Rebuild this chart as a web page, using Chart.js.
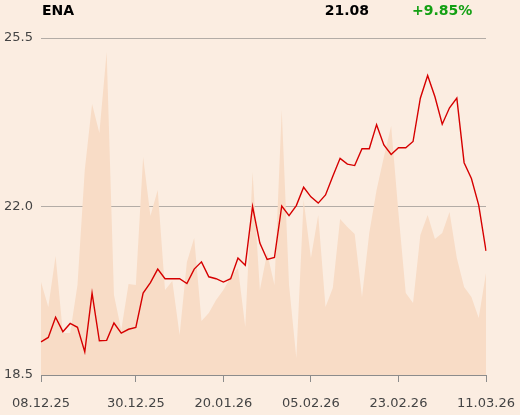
<!DOCTYPE html>
<html>
<head>
<meta charset="utf-8">
<script src="https://cdn.jsdelivr.net/npm/chart.js@4"></script>
<style>
  body { margin: 0; background: #fbede1; }
  #wrap { position: relative; width: 520px; height: 415px; }
  #chart { display: block; }
  .hdr { position: absolute; top: 2px; font: bold 14px "DejaVu Sans", sans-serif; color: #000; }
</style>
</head>
<body>
<div id="wrap">
  <div class="hdr" style="left:42px">ENA</div>
  <div class="hdr" style="right:151px">21.08</div>
  <div class="hdr" style="left:412px; color:#13a013">+9.85%</div>
  <canvas id="chart" width="520" height="415"></canvas>
</div>
<script>
const dates = [
  "08.12.25", "09.12.25", "10.12.25", "11.12.25", "12.12.25",
  "15.12.25", "16.12.25", "17.12.25", "18.12.25", "19.12.25",
  "22.12.25", "23.12.25", "29.12.25", "30.12.25",
  "02.01.26", "05.01.26", "07.01.26", "08.01.26", "09.01.26",
  "12.01.26", "13.01.26", "14.01.26", "15.01.26", "16.01.26",
  "19.01.26", "20.01.26", "21.01.26", "22.01.26", "23.01.26",
  "26.01.26", "27.01.26", "28.01.26", "29.01.26", "30.01.26",
  "02.02.26", "03.02.26", "04.02.26", "05.02.26", "06.02.26",
  "09.02.26", "10.02.26", "11.02.26", "12.02.26", "13.02.26",
  "16.02.26", "17.02.26", "18.02.26", "19.02.26", "20.02.26",
  "23.02.26", "24.02.26", "25.02.26", "26.02.26", "27.02.26",
  "02.03.26", "03.03.26", "04.03.26", "05.03.26", "06.03.26",
  "09.03.26", "10.03.26", "11.03.26",
];

const prices = [
  19.19, 19.28, 19.70, 19.40, 19.57, 19.49, 18.98, 20.20, 19.21, 19.22,
  19.58, 19.37, 19.45, 19.49, 20.20, 20.42, 20.70, 20.50, 20.50, 20.50,
  20.40, 20.70, 20.85, 20.54, 20.50, 20.43, 20.50, 20.93, 20.78, 22.00,
  21.24, 20.90, 20.94, 22.01, 21.81, 22.02, 22.40, 22.20, 22.07, 22.24,
  22.63, 23.00, 22.88, 22.85, 23.20, 23.20, 23.70, 23.28, 23.08, 23.22,
  23.22, 23.35, 24.25, 24.72, 24.28, 23.71, 24.05, 24.25, 22.91, 22.58,
  22.03, 21.08,
];

// volume, mln
const volumes = [
  0.93, 0.68, 1.19, 0.42, 0.42, 0.90, 2.05, 2.71, 2.42, 3.23,
  0.80, 0.45, 0.91, 0.90, 2.18, 1.59, 1.85, 0.85, 0.94, 0.40,
  1.13, 1.37, 0.54, 0.62, 0.75, 0.85, 0.98, 1.07, 0.48, 2.03,
  0.85, 1.22, 0.90, 2.65, 0.90, 0.17, 1.75, 1.17, 1.60, 0.68,
  0.87, 1.56, 1.48, 1.41, 0.78, 1.42, 1.85, 2.18, 2.49, 1.62,
  0.82, 0.72, 1.40, 1.60, 1.36, 1.42, 1.63, 1.17, 0.88, 0.78,
  0.57, 1.02,
];

const tickDates = ["08.12.25", "30.12.25", "20.01.26", "05.02.26", "23.02.26", "11.03.26"];
const priceTicks = [18.5, 22.0, 25.5];

const font = { family: "DejaVu Sans", size: 13 };

new Chart("chart", {
  data: {
    labels: dates,
    datasets: [
      {
        type: "line",
        data: prices,
        yAxisID: "y",
        borderColor: "#d60000",
        borderWidth: 1.4,
        pointRadius: 0,
        tension: 0,
        order: 1,
      },
      {
        type: "line",
        data: volumes,
        yAxisID: "vol",
        borderWidth: 0,
        backgroundColor: "#f8dcc6",
        fill: "origin",
        pointRadius: 0,
        tension: 0,
        order: 2,
      },
    ],
  },
  options: {
    responsive: false,
    animation: false,
    layout: {
      padding: { top: 38, right: 34, bottom: 3, left: 3 },
    },
    scales: {
      x: {
        type: "category",
        offset: false,
        afterBuildTicks: (scale) => {
          scale.ticks = scale.ticks.filter((t) => tickDates.includes(dates[t.value]));
        },
        afterFit: (scale) => {
          // keep the plot wide, labels may hang over the edges
          scale.paddingLeft = 0;
          scale.paddingRight = 0;
          scale.height = 37;
        },
        ticks: {
          autoSkip: false,
          maxRotation: 0,
          color: "#444",
          font: font,
          padding: 14,
          callback: (v) => dates[v],
        },
        grid: {
          drawOnChartArea: false,
          drawTicks: true,
          tickLength: 7,
          color: "#8c8c8c",
        },
        border: { color: "#8c8c8c" },
      },
      y: {
        position: "left",
        min: 18.5,
        max: 25.5,
        z: 1,
        afterBuildTicks: (scale) => {
          scale.ticks = priceTicks.map((v) => ({ value: v }));
        },
        afterFit: (scale) => {
          scale.width = 38;
        },
        ticks: {
          color: "#444",
          font: font,
          padding: 8,
          callback: (v) => v.toFixed(1),
        },
        grid: {
          color: "#b3aca6",
          drawTicks: false,
        },
        border: { display: false },
      },
      vol: {
        display: false,
        min: 0,
        max: 3.37,
      },
    },
    plugins: {
      legend: { display: false },
      tooltip: { enabled: false },
    },
  },
});
</script>
</body>
</html>
